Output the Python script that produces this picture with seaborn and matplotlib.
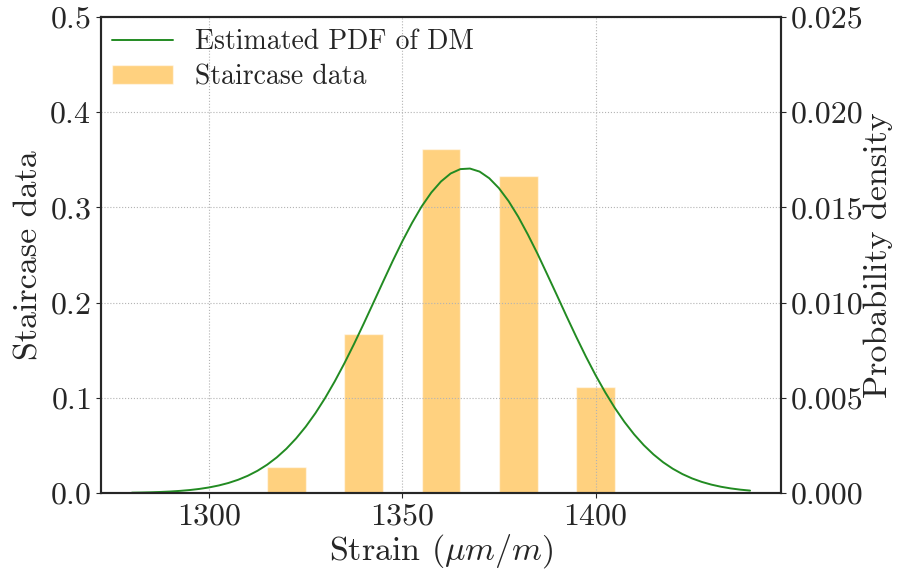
import matplotlib
matplotlib.use("Agg")
import matplotlib.pyplot as plt
import seaborn as sns
import pandas as pd

# Staircase data (relative frequency at each strain level)
strain_levels = [1320, 1340, 1360, 1380, 1400]
staircase_freq = [0.0278, 0.1667, 0.3611, 0.3333, 0.1111]

# Estimated PDF of DM, every 2.5 um/m
pdf_strain = [1280, 1282.5, 1285, 1287.5, 1290, 1292.5, 1295, 1297.5,
              1300, 1302.5, 1305, 1307.5, 1310, 1312.5, 1315, 1317.5,
              1320, 1322.5, 1325, 1327.5, 1330, 1332.5, 1335, 1337.5,
              1340, 1342.5, 1345, 1347.5, 1350, 1352.5, 1355, 1357.5,
              1360, 1362.5, 1365, 1367.5, 1370, 1372.5, 1375, 1377.5,
              1380, 1382.5, 1385, 1387.5, 1390, 1392.5, 1395, 1397.5,
              1400, 1402.5, 1405, 1407.5, 1410, 1412.5, 1415, 1417.5,
              1420, 1422.5, 1425, 1427.5, 1430, 1432.5, 1435, 1437.5, 1440]
pdf_density = [0.0000178, 0.0000263, 0.0000384, 0.0000555, 0.0000792, 0.000112,
               0.000156, 0.000215, 0.000293, 0.000396, 0.000527, 0.000695,
               0.000905, 0.001166, 0.001485, 0.001870, 0.002327, 0.002865,
               0.003484, 0.004191, 0.004984, 0.005860, 0.006811, 0.007826,
               0.008892, 0.009988, 0.01109, 0.01218, 0.01322, 0.01418,
               0.01505, 0.01578, 0.01636, 0.01678, 0.01701, 0.01704,
               0.01688, 0.01653, 0.01601, 0.01533, 0.01451, 0.01357,
               0.01256, 0.01148, 0.01039, 0.009284, 0.008206, 0.007169,
               0.006194, 0.005291, 0.004467, 0.003729, 0.003078, 0.002511,
               0.002026, 0.001615, 0.001274, 0.000993, 0.000765, 0.000583,
               0.000439, 0.000327, 0.000241, 0.000175, 0.000126]

sns.set_style("ticks")
plt.rcParams['font.family'] = ['cmr10', 'DejaVu Serif']
plt.rcParams['mathtext.fontset'] = 'cm'
plt.rcParams['axes.formatter.use_mathtext'] = True
plt.rcParams['axes.unicode_minus'] = False

bars_df = pd.DataFrame({'strain': strain_levels, 'freq': staircase_freq})
pdf_df = pd.DataFrame({'strain': pdf_strain, 'density': pdf_density})

fig = plt.figure(figsize=(9.08, 5.76), dpi=100)
ax = fig.add_axes([0.1112, 0.1441, 0.7489, 0.8264])
ax2 = ax.twinx()

ax.bar(bars_df['strain'], bars_df['freq'], width=10, color='orange', alpha=0.5,
       label='Staircase data')
sns.lineplot(data=pdf_df, x='strain', y='density', ax=ax2, color='forestgreen',
             linewidth=1.4, label='Estimated PDF of DM')

ax.set_ylim(0, 0.5)
ax2.set_ylim(0, 0.025)
ax.set_xticks([1300, 1350, 1400])
ax.set_yticks([0.0, 0.1, 0.2, 0.3, 0.4, 0.5])
ax2.set_yticks([0.0, 0.005, 0.010, 0.015, 0.020, 0.025])
ax2.set_yticklabels(['0.000', '0.005', '0.010', '0.015', '0.020', '0.025'])

ax.set_xlabel(r'Strain ($\mu m/m$)', fontsize=24.5, labelpad=1)
ax.set_ylabel('Staircase data', fontsize=24.5, labelpad=4)
ax2.set_ylabel('Probability density', fontsize=24.5, labelpad=0)
ax.tick_params(labelsize=23)
ax2.tick_params(labelsize=23)

# dotted grid drawn over the bars
ax.set_axisbelow(False)
ax.grid(True, color='0.7', linestyle=':', linewidth=0.8)
for a in (ax, ax2):
    for s in a.spines.values():
        s.set_linewidth(1.5)
        s.set_visible(True)

h1, l1 = ax2.get_legend_handles_labels()
h2, l2 = ax.get_legend_handles_labels()
ax2.legend(h1 + h2, l1 + l2, loc='upper left', fontsize=20, frameon=False,
           handlelength=2.2, labelspacing=0.3,
           bbox_to_anchor=(-0.021, 1.027))

fig.savefig('out.png', dpi=100)
